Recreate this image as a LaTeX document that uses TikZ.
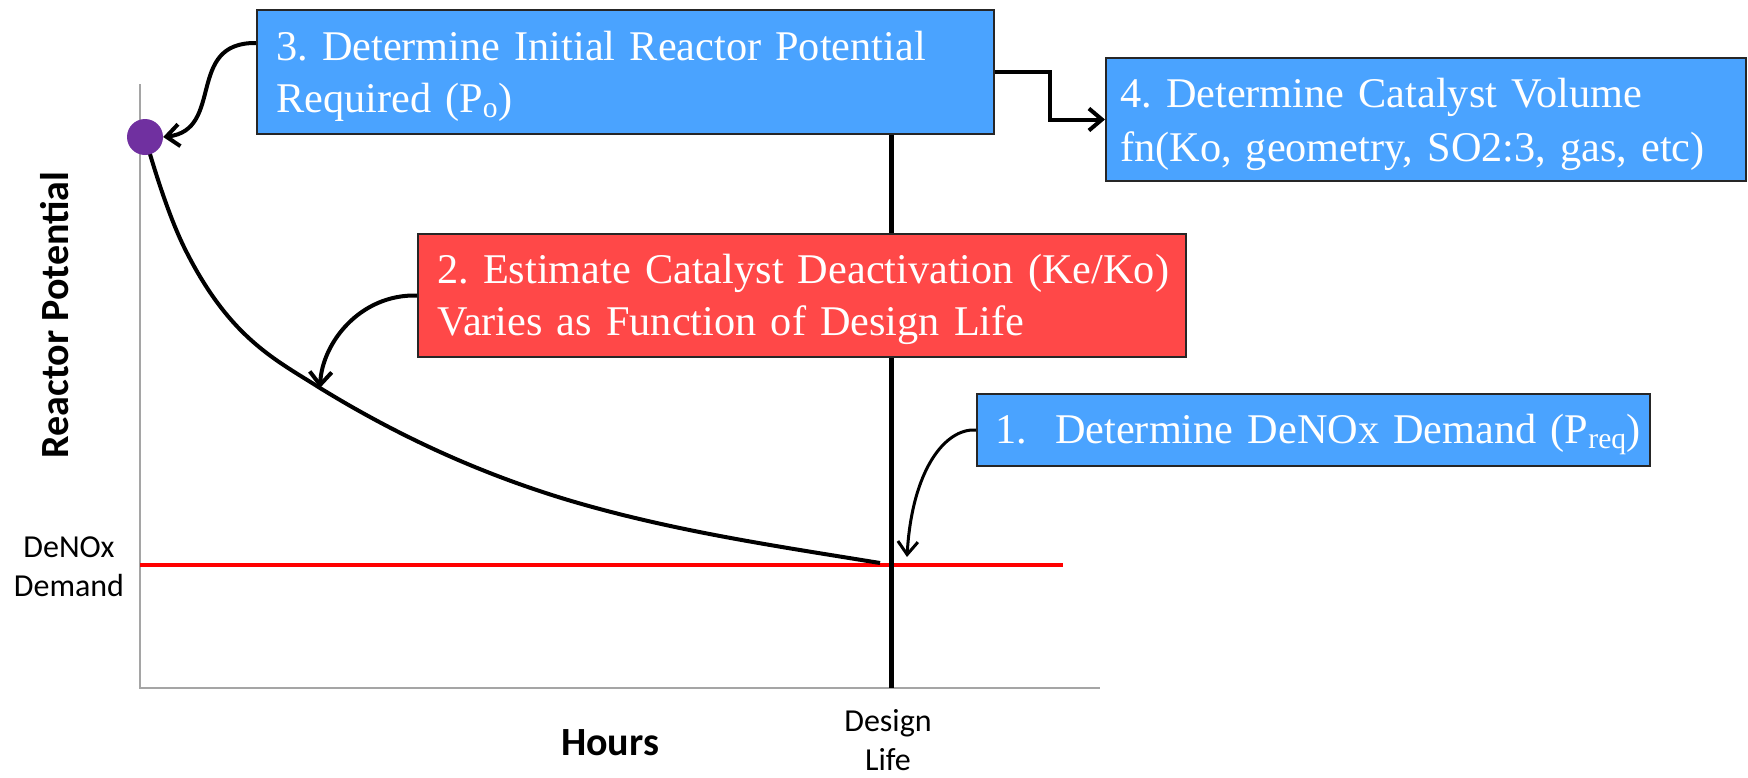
\documentclass[tikz,border=0pt]{standalone}
\usepackage{fontspec}
\setmainfont{Liberation Serif}
\newfontfamily\calib{Carlito}
\usetikzlibrary{arrows.meta}
\definecolor{boxblue}{RGB}{74,163,255}
\definecolor{boxred}{RGB}{255,72,72}
\definecolor{dotpurple}{RGB}{112,48,160}
\definecolor{axisgray}{RGB}{165,165,165}
\frenchspacing
\begin{document}
\begin{tikzpicture}[x=1pt,y=-1pt,
  boxframe/.style={draw=black!85, line width=2pt, anchor=north west, inner sep=0pt},
  bluebox/.style={boxframe, fill=boxblue},
  redbox/.style={boxframe, fill=boxred},
  boxtext/.style={anchor=base west, text=white, inner sep=0pt, align=left, text width=900pt,
    font=\fontsize{42.3}{52}\selectfont},
  conn/.style={line width=4pt, -{Straight Barb[length=13pt,width=22pt]}},
  thinconn/.style={line width=3pt, -{Straight Barb[length=13pt,width=20pt]}},
  axis/.style={draw=axisgray, line width=2.5pt},
  axlabel/.style={font=\calib\bfseries\fontsize{40}{48}\selectfont, inner sep=0pt},
  ticklabel/.style={font=\calib\fontsize{32}{39}\selectfont, inner sep=0pt, align=center, text width=200pt}
]
\useasboundingbox (0,0) rectangle (1748,777);

% axes
\coordinate (origin) at (140,688);
\coordinate (ytop) at (140,84);
\coordinate (xend) at (1100,688);
\draw[axis] (ytop) -- (origin) -- (xend);

% DeNOx demand line
\coordinate (dl) at (140,565);
\coordinate (dr) at (1063,565);
\draw[red, line width=4pt] (dl) -- (dr);

% boxes
\node[bluebox, minimum width=737pt, minimum height=124pt] (b3) at (256,9) {};
\node[bluebox, minimum width=640pt, minimum height=123pt] (b4) at (1105,57) {};
\node[bluebox, minimum width=673pt, minimum height=72pt] (b1) at (976,393) {};

% design life line
\coordinate (dlb) at (891,688);
\draw[line width=5pt] (dlb |- b3.south) -- (dlb);

\node[redbox, minimum width=768pt, minimum height=123pt] (b2) at (417,233) {};

% decay curve
\coordinate (c0) at (145,137);
\coordinate (c1) at (187,253);
\coordinate (c2) at (320,388);
\coordinate (c3) at (568,500);
\coordinate (c4) at (880,563);
\draw[line width=4pt, line join=round] (c0)
  .. controls (159,186) and (173,226) .. (c1)
  .. controls (231,339) and (276,360) .. (c2)
  .. controls (403,439) and (485,475) .. (c3)
  .. controls (672,531) and (776,546) .. (c4);

\node[circle, fill=dotpurple, minimum size=36pt, inner sep=0pt] (dot) at (c0) {};

% box texts
\node[boxtext] (t3) at (276,60) {3. Determine Initial Reactor Potential\\Required (P\textsubscript{o})};
\node[boxtext, font=\fontsize{42.3}{54}\selectfont] (t4) at (1120,107) {4. Determine Catalyst Volume\\fn(Ko, geometry, SO2:3, gas, etc)};
\node[boxtext] (t2) at (437,283) {2. Estimate Catalyst Deactivation (Ke/Ko)\\Varies as Function of Design Life};
\node[boxtext] (t1) at (995,443) {1.\ \ Determine DeNOx Demand (P\textsubscript{req})};

% connectors
\draw[conn] ([yshift=29pt]b3.west) .. controls (185,42) and (225,130) .. (dot.east);
\draw[conn] (b3.east) -- ++(55,0) |- (b4.west);
\draw[conn] (b2.west) .. controls (360,294) and (322,343) .. (c2);
\coordinate (p1) at (907,557);
\draw[thinconn] (b1.west) .. controls (945,428) and (912,470) .. (p1);

% axis labels
\node[axlabel, rotate=90, anchor=base] (ylab) at (68,315) {Reactor Potential};
\node[axlabel, anchor=base] (xlab) at (610,755) {Hours};
\node[ticklabel, anchor=base] (dnx) at (69,557) {DeNOx\\Demand};
\node[ticklabel, anchor=base] (dsl) at (888,731) {Design\\Life};
\end{tikzpicture}
\end{document}
